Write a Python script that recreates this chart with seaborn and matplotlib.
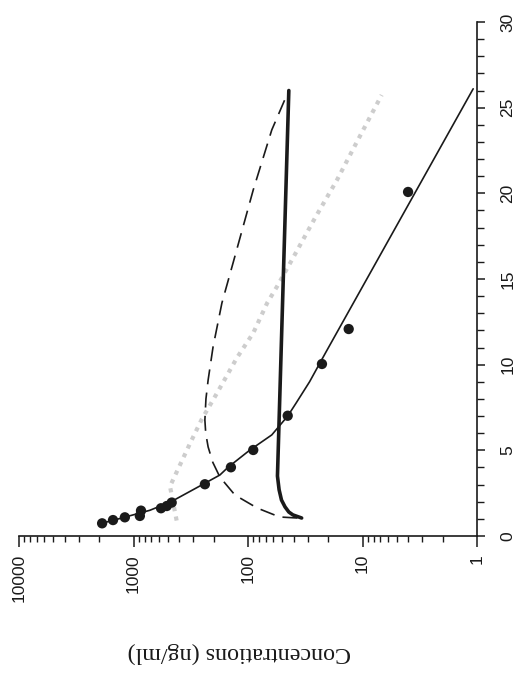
import numpy as np
import pandas as pd
import seaborn as sns
import matplotlib.pyplot as plt
from matplotlib.ticker import FixedLocator, MultipleLocator, LogLocator, NullFormatter

# --- DATA (read off the scanned, rotated figure) ---
# measured concentrations (dots)
obs_time = [0.74, 0.93, 1.09, 1.17, 1.48, 1.62, 1.75, 1.95, 3.02, 4.01, 5.02, 7.02, 10.04, 12.08, 20.08]
obs_conc = [1880, 1510, 1190, 880, 860, 575, 512, 464, 238, 141, 90, 45, 22.6, 13.2, 4.0]

# fitted curve through the dots (thin solid)
fit_time = [0.74, 1.0, 1.5, 2.0, 3.0, 3.56, 4.0, 5.0, 5.9, 7.0, 7.76, 9.0, 10.7, 26.1]
fit_conc = [1900, 1350, 720, 470, 250, 176, 150, 97, 62, 45, 38, 29, 21, 1.08]

# thick solid curve
thick_time = [1.05, 1.23, 1.4, 1.70, 2.1, 2.7, 3.5, 26.0]
thick_conc = [34, 40.5, 44, 47.5, 51, 53.5, 55.3, 44]

# dashed curve
dash_time = [1.05, 1.11, 1.63, 2.39, 3.44, 4.3, 5.2, 6.0, 6.77, 8.0, 9.1, 11.03, 13.6, 15.94, 20.2, 23.7, 25.86]
dash_conc = [37, 53, 83, 130, 176, 203, 223, 234, 238, 233, 223, 202, 169, 135, 90, 62, 45]

# light grey dotted curve
grey_time = [0.9, 2.9, 5.4, 6.8, 8.3, 10.4, 11.85, 13.6, 14.54, 16.29, 18.56, 20.78, 23.0, 25.74]
grey_conc = [420, 480, 321, 254, 188, 125, 90, 68, 56, 40, 26, 16.7, 11.2, 6.8]

conc_ticks = [10000, 1000, 100, 10, 1]
conc_labels = ['10000', '1000', '100', '10', '1']
time_ticks = [0, 5, 10, 15, 20, 25, 30]
y_label = 'Concentrations (ng/ml)'

sns.set_style('white')
plt.rcParams['font.family'] = ['Liberation Sans', 'DejaVu Sans']

fig = plt.figure(figsize=(5.23, 6.77), dpi=100)
ax = fig.add_axes([19 / 523, 141 / 677, 458 / 523, 514 / 677])

# the page is rotated: concentration runs along x, time along y
sns.lineplot(x=grey_conc, y=grey_time, sort=False, estimator=None, ax=ax,
             color='#cdcdcd', linewidth=3.0, linestyle=(0, (1.0, 1.3)))
sns.lineplot(x=dash_conc, y=dash_time, sort=False, estimator=None, ax=ax,
             color='#1a1a1a', linewidth=1.2, linestyle=(0, (9, 5)))
sns.lineplot(x=thick_conc, y=thick_time, sort=False, estimator=None, ax=ax,
             color='#1a1a1a', linewidth=2.6)
sns.lineplot(x=fit_conc, y=fit_time, sort=False, estimator=None, ax=ax,
             color='#1a1a1a', linewidth=1.2)
sns.scatterplot(x=obs_conc, y=obs_time, ax=ax, color='#1a1a1a', s=55,
                edgecolor='none', zorder=5)

ax.set_xscale('log')
ax.set_xlim(10000, 1)
ax.set_ylim(0, 30)

ax.spines['left'].set_visible(False)
ax.spines['top'].set_visible(False)
for s in ('bottom', 'right'):
    ax.spines[s].set_linewidth(1.2)
    ax.spines[s].set_color('#1a1a1a')

ax.xaxis.set_major_locator(FixedLocator(conc_ticks))
ax.xaxis.set_minor_locator(LogLocator(base=10, subs=np.arange(2, 10)))
ax.xaxis.set_minor_formatter(NullFormatter())
ax.set_xticklabels(conc_labels)

ax.yaxis.tick_right()
ax.set_yticks(time_ticks)
ax.yaxis.set_minor_locator(MultipleLocator(1))

ax.tick_params(axis='x', which='major', direction='out', length=8, width=1.1,
               pad=5, labelrotation=90, labelsize=12.5, colors='#1a1a1a', bottom=True)
ax.tick_params(axis='x', which='minor', direction='out', length=4.5, width=1,
               colors='#1a1a1a', bottom=True)
ax.tick_params(axis='y', which='major', direction='out', length=6, width=1.1,
               pad=11, labelrotation=90, labelsize=12.5, colors='#1a1a1a',
               right=True, left=False)
ax.tick_params(axis='y', which='minor', direction='out', length=5, width=1,
               colors='#1a1a1a', right=True, left=False)
for lab in ax.get_yticklabels():
    lab.set_verticalalignment('center')
ax.set_xlabel('')
ax.set_ylabel('')

fig.text(239 / 523, 1 - 653 / 677, y_label, rotation=180, ha='center', va='center',
         fontsize=17.3, family=['Liberation Serif', 'DejaVu Serif'], color='#1a1a1a')

fig.savefig('out.png', dpi=100, facecolor='white')
